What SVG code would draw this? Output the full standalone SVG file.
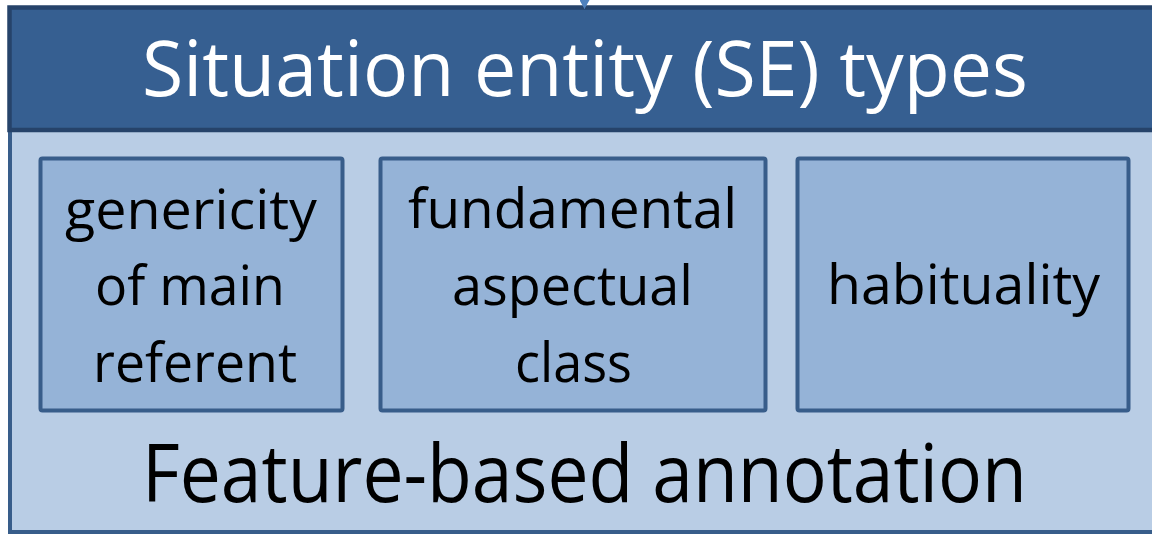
<svg xmlns="http://www.w3.org/2000/svg" width="1152" height="534" viewBox="0 0 1152 534">
  <defs>
    <style>
      .big { font-family: "Open Sans", "Noto Sans", "Liberation Sans", sans-serif; text-anchor: middle; }
      .title { fill: #FFFFFF; font-size: 76px; }
      .foot { fill: #000000; font-size: 80px; }
      .lbl { font-family: "Open Sans", "Noto Sans", "Liberation Sans", sans-serif; font-size: 54px; fill: #000000; text-anchor: middle; }
      .feat { fill: #95B3D7; stroke: #385D8A; stroke-width: 4; }
    </style>
    <marker id="arr" markerWidth="9" markerHeight="10" refX="9" refY="5" orient="auto" markerUnits="userSpaceOnUse">
      <path d="M0,0 L9,5 L0,10 Z" fill="#4F81BD"/>
    </marker>
  </defs>

  <g id="outer">
    <rect x="10" y="128" width="1142" height="404" fill="#B9CDE5"/>
    <path d="M1152,532 L10,532 L10,128" fill="none" stroke="#385D8A" stroke-width="4"/>
  </g>

  <g id="header">
    <rect x="9.5" y="7.5" width="1142.5" height="122.5" fill="#365F91"/>
    <path d="M1152,7.5 L9.5,7.5 L9.5,130 L1152,130" fill="none" stroke="#26436A" stroke-width="4.5"/>
    <text class="big title" x="585" y="96" textLength="886" lengthAdjust="spacingAndGlyphs">Situation entity (SE) types</text>
  </g>

  <g id="connectors">
    <line x1="584.5" y1="-20" x2="584.5" y2="9" stroke="#4F81BD" stroke-width="0.5" marker-end="url(#arr)"/>
  </g>

  <g id="genericity">
    <rect class="feat" x="40.5" y="158.5" width="302" height="252" rx="2"/>
    <text class="lbl" x="191" y="229" textLength="252" lengthAdjust="spacingAndGlyphs">genericity</text>
    <text class="lbl" x="190" y="305" textLength="190" lengthAdjust="spacingAndGlyphs">of main</text>
    <text class="lbl" x="195" y="382" textLength="204" lengthAdjust="spacingAndGlyphs">referent</text>
  </g>

  <g id="aspectual">
    <rect class="feat" x="380.5" y="158.5" width="385" height="252" rx="2"/>
    <text class="lbl" x="572.5" y="228" textLength="329" lengthAdjust="spacingAndGlyphs">fundamental</text>
    <text class="lbl" x="572.5" y="305" textLength="241" lengthAdjust="spacingAndGlyphs">aspectual</text>
    <text class="lbl" x="573.5" y="382" textLength="117" lengthAdjust="spacingAndGlyphs">class</text>
  </g>

  <g id="habituality">
    <rect class="feat" x="797.5" y="158.5" width="331" height="252" rx="2"/>
    <text class="lbl" x="963.5" y="304" textLength="273" lengthAdjust="spacingAndGlyphs">habituality</text>
  </g>

  <g id="footer">
    <text class="big foot" x="584.5" y="502" textLength="885" lengthAdjust="spacingAndGlyphs">Feature-based annotation</text>
  </g>
</svg>
